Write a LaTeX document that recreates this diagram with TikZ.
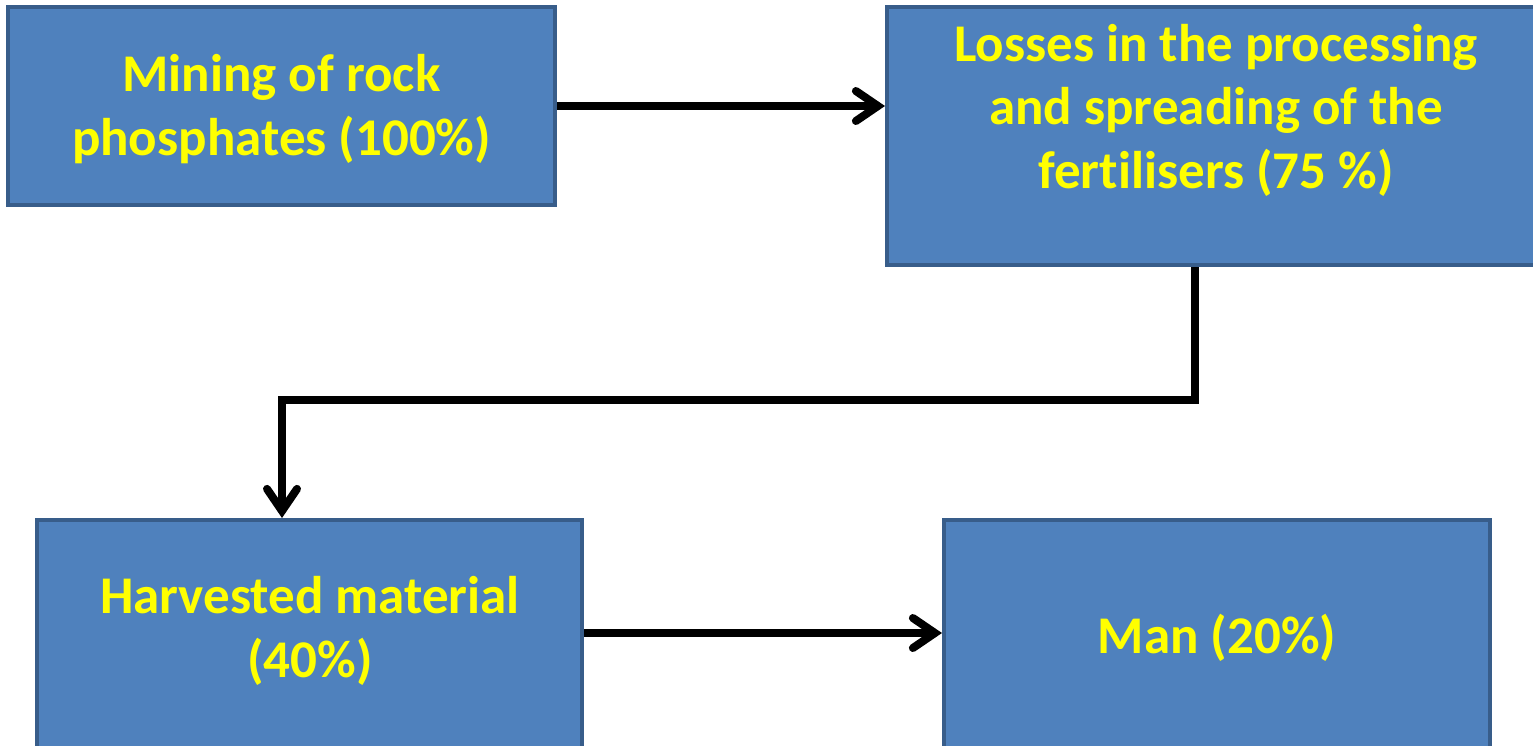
\documentclass[tikz,border=0pt]{standalone}
\usepackage{fontspec}
\setmainfont{Carlito}[Ligatures=NoCommon]
\usetikzlibrary{arrows.meta}
\definecolor{boxfill}{HTML}{4F81BD}
\definecolor{boxline}{HTML}{385D8A}
\definecolor{txtyellow}{HTML}{FFFF00}

\begin{document}
\begin{tikzpicture}[x=1pt, y=-1pt,
  box/.style={draw=boxline, line width=4pt, fill=boxfill, inner sep=0pt},
  boxtext/.style={text=txtyellow, font=\fontsize{53}{63.5}\selectfont\bfseries, align=center, inner sep=0pt},
  flow/.style={line width=8pt, -{Straight Barb[length=22pt, width=30pt, line cap=round]}}]
\clip (0,0) rectangle (1533,745);
\fill[white] (0,0) rectangle (1533,745);
% boxes
\node[box, minimum width=547pt, minimum height=198pt] (mine) at (281.5,106) {};
\node[box, minimum width=658pt, minimum height=258pt] (loss) at (1216,136) {};
\node[box, minimum width=545pt, minimum height=240pt] (harv) at (309.5,640) {};
\node[box, minimum width=546pt, minimum height=240pt] (man) at (1217,640) {};
% texts
\node[boxtext] (minetext) at (281.5,109) {Mining of rock\\phosphates (100\%)};
\node[boxtext] (losstext) at (1216,110) {Losses in the processing\\and spreading of the\\fertilisers (75 \%)};
\node[boxtext] (harvtext) at (310,631) {Harvested material\\(40\%)};
\node[boxtext] (mantext) at (1217,638) {Man (20\%)};
% connectors
\coordinate (bend1) at (1195,400);
\coordinate (bend2) at (282,400);
\draw[flow] (mine.east) -- (mine.east -| loss.west);
\draw[flow] (loss.south -| bend1) -- (bend1) -- (bend2) -- (bend2 |- harv.north);
\draw[flow] ([yshift=7pt]harv.east) -- ([yshift=7pt]man.west);
\end{tikzpicture}
\end{document}
